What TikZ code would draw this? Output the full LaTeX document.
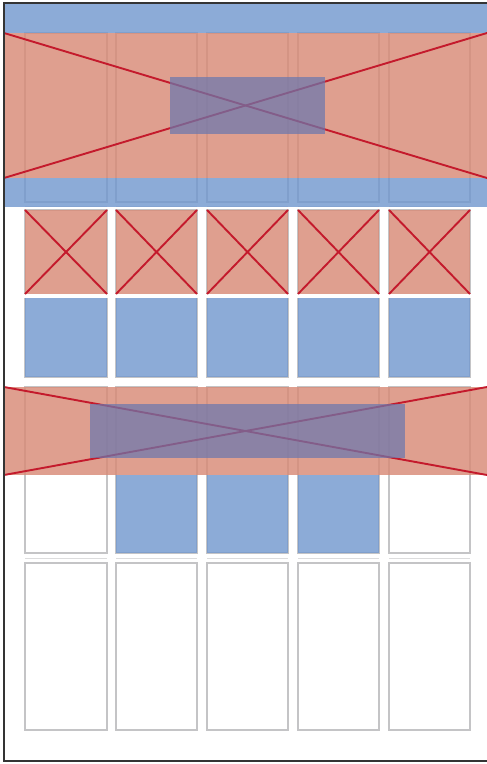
\documentclass[tikz,border=0pt]{standalone}
\usetikzlibrary{calc}
\definecolor{redfill}{RGB}{216,136,116}
\definecolor{bluefill}{RGB}{112,150,206}
\definecolor{purplefill}{RGB}{107,120,174}
\definecolor{xline}{RGB}{196,26,44}
\definecolor{gridgray}{RGB}{196,196,198}
\definecolor{framegray}{RGB}{52,52,52}
\tikzset{
  gridbox/.style={draw=gridgray, line width=1.4pt},
  gridlight/.style={draw=gridgray!60, line width=1pt},
  redbox/.style={fill=redfill, fill opacity=0.8},
  bluebox/.style={fill=bluefill, fill opacity=0.8},
  purplebox/.style={fill=purplefill, fill opacity=0.72},
  xmark/.style={draw=xline, line width=1.9pt},
  pageframe/.style={draw=framegray, line width=2pt}
}
\begin{document}
\begin{tikzpicture}[x=1pt,y=-1pt]
\useasboundingbox (0,0) rectangle (487,764);
\fill[white] (0,0) rectangle (487,764);
% column grid outlines
\foreach \l/\r in {25/107,116/197,207/288,298/379,389/470}{
  \draw[gridbox] (\l,33) rectangle (\r,202);
  \draw[gridbox] (\l,210) rectangle (\r,377);
  \draw[gridbox] (\l,387) rectangle (\r,553);
  \draw[gridbox] (\l,563) rectangle (\r,730);
  \draw[gridlight] (\l,206) -- (\r,206);
  \draw[gridlight] (\l,558) -- (\r,558);
}
% top header bands
\fill[bluebox] (4,4) rectangle (487,33);
\fill[redbox] (4,33) rectangle (487,178);
\fill[bluebox] (4,178) rectangle (487,207);
\draw[xmark] (4,33) -- (487,178);
\draw[xmark] (4,178) -- (487,33);
\fill[purplebox] (170,77) rectangle (325,134);
% row of image placeholders and blue cells
\foreach \l/\r in {25/107,116/197,207/288,298/379,389/470}{
  \fill[white] (\l-1,294) rectangle (\r+1,298);
  \fill[redbox] (\l,210) rectangle (\r,294);
  \draw[xmark] (\l,210) -- (\r,294);
  \draw[xmark] (\l,294) -- (\r,210);
  \fill[bluebox] (\l,298) rectangle (\r,377);
}
% blue cells in third row
\foreach \l/\r in {116/197,207/288,298/379}{
  \fill[bluebox] (\l,475) rectangle (\r,553);
}
% middle band
\fill[redbox] (4,387) rectangle (487,475);
\draw[xmark] (4,387) -- (487,475);
\draw[xmark] (4,475) -- (487,387);
\fill[purplebox] (90,404) rectangle (405,458);
% page frame
\draw[pageframe] (500,3) -- (4,3) -- (4,761) -- (500,761);
\end{tikzpicture}
\end{document}
